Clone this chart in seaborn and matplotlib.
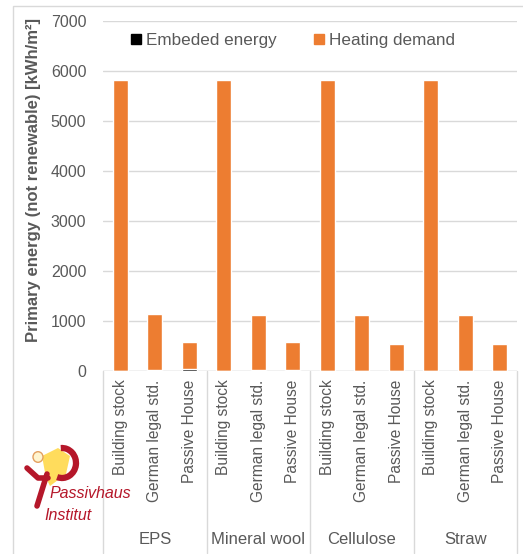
import numpy as np
import pandas as pd
import seaborn as sns
import matplotlib.pyplot as plt
from matplotlib.patches import Rectangle, Polygon, Circle, Arc
from matplotlib.lines import Line2D

materials = ["EPS", "Mineral wool", "Cellulose", "Straw"]
standards = ["Building stock", "German legal std.", "Passive House"]

# values (kWh/m²)
heating = [5830, 1125, 540,
           5830, 1110, 548,
           5830, 1122, 545,
           5830, 1118, 532]
embedded = [0, 20, 40,
            0, 15, 25,
            0, 5, 2,
            0, 2, 1]

orange = "#ED7D31"
grey_txt = "#595959"
grid_col = "#D9D9D9"
red = "#B5172A"

df = pd.DataFrame({
    "slot": [f"{m}|{s}" for m in materials for s in standards],
    "heating": heating,
    "embedded": embedded,
})
df["total"] = df["heating"] + df["embedded"]

sns.set_style("white")
plt.rcParams["font.family"] = ["Liberation Sans", "DejaVu Sans"]

fig = plt.figure(figsize=(5.23, 5.54), dpi=100)
ax = fig.add_axes([103 / 523, 1 - 371 / 554, 414 / 523, 350 / 554])

sns.barplot(data=df, x="slot", y="total", order=df["slot"], color=orange,
            width=0.44, saturation=1, ax=ax, zorder=2)
sns.barplot(data=df, x="slot", y="embedded", order=df["slot"], color="black",
            width=0.44, saturation=1, ax=ax, zorder=3)

ax.set_ylim(0, 7000)
ax.set_xlim(-0.5, len(df) - 0.5)
ax.set_yticks(range(0, 7001, 1000))
ax.tick_params(axis="y", length=0, labelsize=11.5, labelcolor=grey_txt, pad=12)
ax.set_xticks(range(len(df)))
ax.set_xticklabels([s for m in materials for s in standards], rotation=90,
                   fontsize=11.2, color=grey_txt)
ax.tick_params(axis="x", length=0, pad=6)
ax.yaxis.grid(True, color=grid_col, lw=1)
ax.set_axisbelow(True)
for sp in ax.spines.values():
    sp.set_visible(False)
ax.set_xlabel("")
ax.set_ylabel("Primary energy (not renewable) [kWh/m²]", fontsize=12,
              fontweight="bold", color=grey_txt)
ax.yaxis.set_label_coords(-0.15, 0.545)

# group separators and group labels below the axis
for k in range(len(materials) + 1):
    x = k * 3 - 0.5
    ax.axvline(x, ymin=-0.52, ymax=0, color=grid_col, lw=1, clip_on=False)
ax.axhline(0, color=grid_col, lw=1, zorder=1)
for k, m in enumerate(materials):
    ax.text(k * 3 + 1, -0.48, m, transform=ax.get_xaxis_transform(),
            ha="center", va="center", fontsize=12, color=grey_txt)

# legend
handles = [Line2D([], [], marker="s", ls="", color="black", markersize=6.5),
           Line2D([], [], marker="s", ls="", color=orange, markersize=6.5)]
fig.legend(handles, ["Embeded energy", "Heating demand"], loc="center",
           bbox_to_anchor=(293 / 523, 1 - 40 / 554), ncol=2, frameon=False,
           fontsize=12.3, handlelength=0.6, handletextpad=0.25,
           columnspacing=2.2, labelcolor=grey_txt)

# outer frame
fig.add_artist(Rectangle((13 / 523, -0.01), 0.99, 1 - 6 / 554 + 0.01,
                         transform=fig.transFigure, fill=False,
                         edgecolor=grid_col, lw=1))

# Passivhaus Institut logo (approximation)
def fx(px):
    return px / 523

def fy(py):
    return 1 - py / 554

fig.add_artist(Polygon([(fx(42), fy(456)), (fx(58), fy(448)), (fx(70), fy(456)),
                        (fx(66), fy(474)), (fx(50), fy(486)), (fx(46), fy(478))],
                       closed=True, transform=fig.transFigure,
                       facecolor="#FFD94A", edgecolor="none", alpha=0.9))
fig.add_artist(Circle((fx(38), fy(457)), 5 / 523, transform=fig.transFigure,
                      facecolor="#FFF5D0", edgecolor="#E3A060", lw=1))
fig.add_artist(Arc((fx(62), fy(463)), 28 / 523, 30 / 554, theta1=-110,
                   theta2=95, transform=fig.transFigure, color=red, lw=4.5))
fig.add_artist(Line2D([fx(27), fx(38), fx(48)], [fy(468), fy(478), fy(478)],
                      transform=fig.transFigure, color=red, lw=4))
fig.add_artist(Line2D([fx(47), fx(37)], [fy(474), fy(506)],
                      transform=fig.transFigure, color=red, lw=4))
fig.text(fx(50), fy(493), "Passivhaus", color=red, fontsize=11.5,
         style="italic", ha="left", va="center")
fig.text(fx(44), fy(516), "Institut", color=red, fontsize=11.5,
         style="italic", ha="left", va="center")

fig.savefig("out.png", dpi=100)
